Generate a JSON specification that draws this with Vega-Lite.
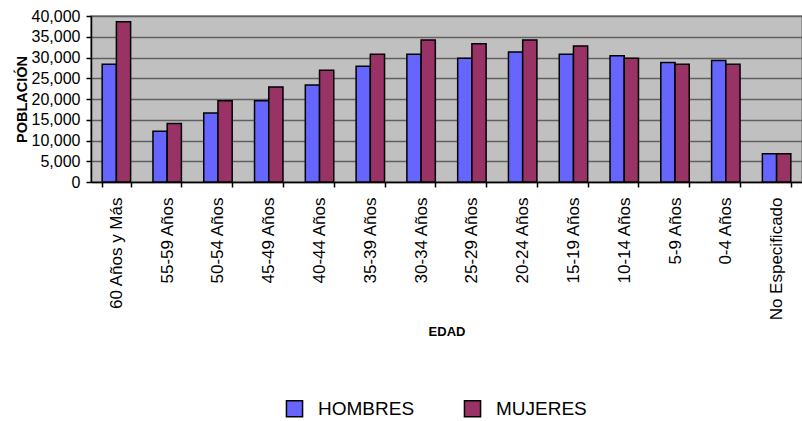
{
  "$schema": "https://vega.github.io/schema/vega-lite/v6.json",
  "width": 711,
  "height": 166,
  "autosize": {"type": "none"},
  "padding": {"left": 91, "top": 16, "right": 0, "bottom": 239},
  "background": "white",
  "config": {
    "font": "Liberation Sans",
    "view": {"fill": "#c0c0c0", "stroke": "#808080", "strokeWidth": 1.5},
    "axis": {"labelColor": "black", "titleColor": "black", "domainColor": "black", "tickColor": "black", "domainWidth": 1.5, "tickWidth": 1.5}
  },
  "data": {
    "values": [
      {"grupo": "60 Años y Más", "sexo": "HOMBRES", "poblacion": 28400},
      {"grupo": "60 Años y Más", "sexo": "MUJERES", "poblacion": 38600},
      {"grupo": "55-59 Años", "sexo": "HOMBRES", "poblacion": 12200},
      {"grupo": "55-59 Años", "sexo": "MUJERES", "poblacion": 14100},
      {"grupo": "50-54 Años", "sexo": "HOMBRES", "poblacion": 16600},
      {"grupo": "50-54 Años", "sexo": "MUJERES", "poblacion": 19600},
      {"grupo": "45-49 Años", "sexo": "HOMBRES", "poblacion": 19600},
      {"grupo": "45-49 Años", "sexo": "MUJERES", "poblacion": 22900},
      {"grupo": "40-44 Años", "sexo": "HOMBRES", "poblacion": 23400},
      {"grupo": "40-44 Años", "sexo": "MUJERES", "poblacion": 26900},
      {"grupo": "35-39 Años", "sexo": "HOMBRES", "poblacion": 27900},
      {"grupo": "35-39 Años", "sexo": "MUJERES", "poblacion": 30800},
      {"grupo": "30-34 Años", "sexo": "HOMBRES", "poblacion": 30800},
      {"grupo": "30-34 Años", "sexo": "MUJERES", "poblacion": 34200},
      {"grupo": "25-29 Años", "sexo": "HOMBRES", "poblacion": 29800},
      {"grupo": "25-29 Años", "sexo": "MUJERES", "poblacion": 33300},
      {"grupo": "20-24 Años", "sexo": "HOMBRES", "poblacion": 31300},
      {"grupo": "20-24 Años", "sexo": "MUJERES", "poblacion": 34200},
      {"grupo": "15-19 Años", "sexo": "HOMBRES", "poblacion": 30800},
      {"grupo": "15-19 Años", "sexo": "MUJERES", "poblacion": 32800},
      {"grupo": "10-14 Años", "sexo": "HOMBRES", "poblacion": 30400},
      {"grupo": "10-14 Años", "sexo": "MUJERES", "poblacion": 29800},
      {"grupo": "5-9 Años", "sexo": "HOMBRES", "poblacion": 28800},
      {"grupo": "5-9 Años", "sexo": "MUJERES", "poblacion": 28400},
      {"grupo": "0-4 Años", "sexo": "HOMBRES", "poblacion": 29300},
      {"grupo": "0-4 Años", "sexo": "MUJERES", "poblacion": 28400},
      {"grupo": "No Especificado", "sexo": "HOMBRES", "poblacion": 6800},
      {"grupo": "No Especificado", "sexo": "MUJERES", "poblacion": 6800}
    ]
  },
  "mark": {"type": "bar", "stroke": "black", "strokeWidth": 1.5},
  "encoding": {
    "x": {
      "field": "grupo",
      "type": "nominal",
      "sort": null,
      "title": "EDAD",
      "scale": {"paddingInner": 0.44, "paddingOuter": 0.22},
      "axis": {
        "labelAngle": -90,
        "labelAlign": "right",
        "labelBaseline": "middle",
        "labelFontSize": 17,
        "labelPadding": 10,
        "tickBand": "extent",
        "tickSize": 5,
        "titleFontSize": 13,
        "titleFontWeight": "bold",
        "titlePadding": 6
      }
    },
    "xOffset": {"field": "sexo", "type": "nominal", "sort": ["HOMBRES", "MUJERES"]},
    "y": {
      "field": "poblacion",
      "type": "quantitative",
      "title": "POBLACIÓN",
      "scale": {"domain": [0, 40000], "nice": false},
      "axis": {
        "values": [0, 5000, 10000, 15000, 20000, 25000, 30000, 35000, 40000],
        "format": ",d",
        "labelFontSize": 16,
        "labelPadding": 6,
        "tickSize": 5,
        "grid": true,
        "gridColor": "#606060",
        "gridWidth": 1.5,
        "titleFontSize": 14.5,
        "titleFontWeight": "bold",
        "titlePadding": 2
      }
    },
    "color": {
      "field": "sexo",
      "type": "nominal",
      "title": null,
      "scale": {"domain": ["HOMBRES", "MUJERES"], "range": ["#6666ff", "#993366"]},
      "legend": {
        "orient": "none",
        "direction": "horizontal",
        "legendX": 194,
        "legendY": 383,
        "symbolType": "square",
        "symbolSize": 260,
        "symbolStrokeColor": "black",
        "symbolStrokeWidth": 1.5,
        "symbolOpacity": 1,
        "labelFontSize": 19,
        "labelColor": "black",
        "labelOffset": 14,
        "columnPadding": 46
      }
    }
  }
}
